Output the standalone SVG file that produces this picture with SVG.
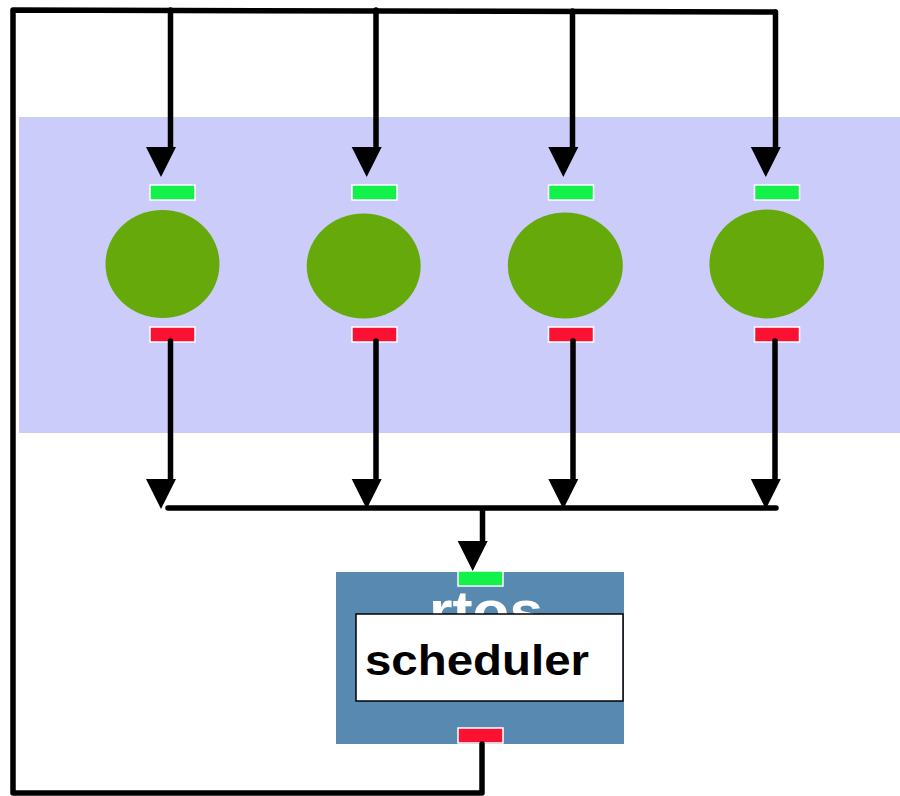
<svg xmlns="http://www.w3.org/2000/svg" xmlns:xlink="http://www.w3.org/1999/xlink" width="900" height="796" viewBox="0 0 900 796">
<style>
.task{fill:#66a90b}
.pin{fill:#13f24b;stroke:#ffffff;stroke-width:1.5}
.pout{fill:#fb1131;stroke:#ffffff;stroke-width:1.5}
.wire{fill:none;stroke:#000000;stroke-width:5.5;stroke-linecap:round;stroke-linejoin:round}
.lbl{font-family:"Liberation Sans",Arial,sans-serif;font-weight:bold}
</style>
<defs>
<polygon id="ah" points="-15,0 15,0 0,30" fill="#000000"/>
</defs>
<rect id="container" x="19" y="117" width="881" height="316" fill="#ccccfb"/>
<g id="task1">
<ellipse class="task" cx="162.5" cy="264" rx="57" ry="54"/>
<rect class="pin" x="150" y="185" width="45" height="15"/>
<rect class="pout" x="150" y="327" width="45" height="15"/>
</g>
<g id="task2">
<ellipse class="task" cx="363.7" cy="266" rx="57" ry="52.5"/>
<rect class="pin" x="352" y="185" width="45" height="15"/>
<rect class="pout" x="352" y="327" width="45" height="15"/>
</g>
<g id="task3">
<ellipse class="task" cx="565.3" cy="265.5" rx="57.5" ry="53"/>
<rect class="pin" x="548.5" y="185" width="45" height="15"/>
<rect class="pout" x="548.5" y="327" width="45" height="15"/>
</g>
<g id="task4">
<ellipse class="task" cx="766.7" cy="264" rx="57.3" ry="54.5"/>
<rect class="pin" x="754.5" y="185" width="45" height="15"/>
<rect class="pout" x="754.5" y="327" width="45" height="15"/>
</g>
<g id="rtos">
<rect x="336" y="572" width="288" height="172" fill="#5889b0"/>
<text class="lbl" x="486" y="630" font-size="56" fill="#ffffff" text-anchor="middle" textLength="114" lengthAdjust="spacingAndGlyphs">rtos</text>
<g id="scheduler">
<rect x="356" y="614" width="267" height="87" fill="#ffffff" stroke="#000000" stroke-width="1.5"/>
<text class="lbl" x="365" y="675" font-size="42" fill="#000000" textLength="224" lengthAdjust="spacingAndGlyphs">scheduler</text>
</g>
<rect class="pin" x="458" y="571" width="45" height="15"/>
<rect class="pout" x="458" y="728" width="45" height="15"/>
</g>
<g id="connectors">
<path class="wire" d="M482,744 L482,793 L13,793 L13,10 L775,12"/>
<path class="wire" d="M170.5,10 L170.5,150 M376,10 L376,150 M572.5,11 L572.5,150 M775.5,12 L775.5,150"/>
<path class="wire" d="M170.5,341 L170.5,482 M376,341 L376,482 M573,341 L573,482 M775,341 L775,482"/>
<path class="wire" d="M168,508 L776,508 M482.5,508 L482.5,543"/>
<use xlink:href="#ah" x="161" y="147"/>
<use xlink:href="#ah" x="366.7" y="147"/>
<use xlink:href="#ah" x="563.3" y="147"/>
<use xlink:href="#ah" x="765.8" y="147"/>
<use xlink:href="#ah" x="161" y="479"/>
<use xlink:href="#ah" x="366.7" y="479"/>
<use xlink:href="#ah" x="563.3" y="479"/>
<use xlink:href="#ah" x="765.8" y="479"/>
<use xlink:href="#ah" x="472.7" y="541"/>
</g>
</svg>
